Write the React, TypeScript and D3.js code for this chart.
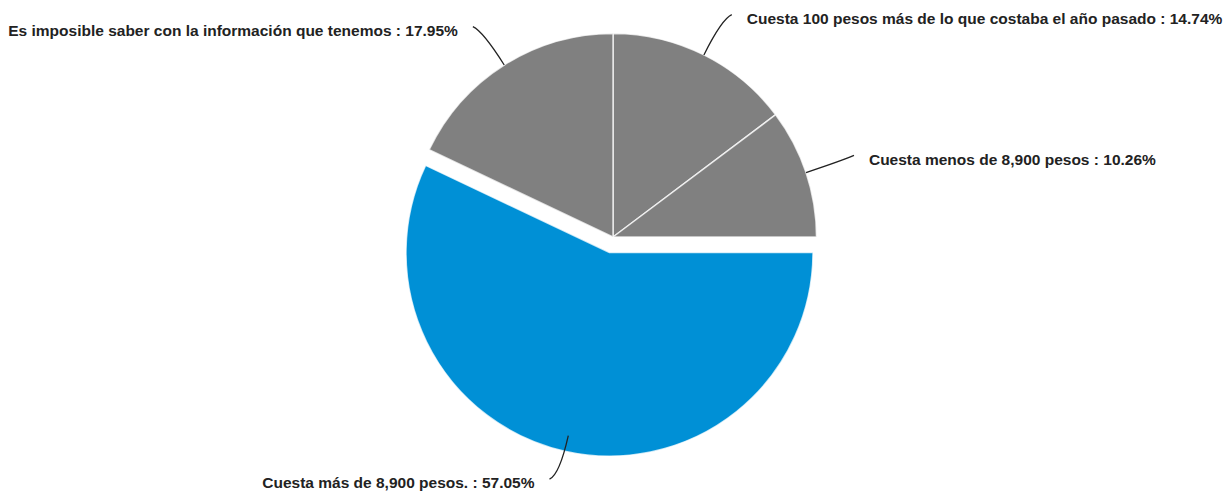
import React, { useEffect, useRef } from 'react';
import * as d3 from 'd3';

// answers in drawing order (clockwise from 12 o'clock)
const labels = [
  'Cuesta 100 pesos más de lo que costaba el año pasado',
  'Cuesta menos de 8,900 pesos',
  'Cuesta más de 8,900 pesos.',
  'Es imposible saber con la información que tenemos',
];
const values = [14.74, 10.26, 57.05, 17.95];
const colors = ['#808080', '#808080', '#0090d6', '#808080'];
const exploded = [false, false, true, false];

const WIDTH = 1228;
const HEIGHT = 491;

export default function App() {
  const svgRef = useRef<SVGSVGElement>(null);

  useEffect(() => {
    if (!svgRef.current) return;
    const svg = d3.select(svgRef.current);
    svg.selectAll('*').remove();

    const cx = 613;
    const cy = 237;
    const radius = 203.5;
    const explode = 16;

    const data = values.map((v, i) => ({ label: labels[i], value: v, color: colors[i], out: exploded[i] }));

    const pie = d3
      .pie<typeof data[number]>()
      .sort(null)
      .value((d) => d.value);
    const arcs = pie(data);

    const arc = d3.arc<d3.PieArcDatum<typeof data[number]>>().innerRadius(0).outerRadius(radius);

    const g = svg.append('g').attr('transform', `translate(${cx},${cy})`);

    const dir = (a: number) => [Math.sin(a), -Math.cos(a)];

    g.selectAll('path.slice')
      .data(arcs)
      .enter()
      .append('path')
      .attr('class', 'slice')
      .attr('d', (d) => arc(d) as string)
      .attr('transform', (d) => {
        if (!d.data.out) return null;
        const [dx, dy] = dir((d.startAngle + d.endAngle) / 2);
        return `translate(${dx * explode},${dy * explode})`;
      })
      .attr('fill', (d) => d.data.color)
      .attr('stroke', '#ffffff')
      .attr('stroke-opacity', 0.75)
      .attr('stroke-width', 1.5)
      .attr('stroke-linejoin', 'round');

    // connectors + labels
    arcs.forEach((d) => {
      const mid = (d.startAngle + d.endAngle) / 2;
      const [dx, dy] = dir(mid);
      const sx = Math.sign(dx) || 1;
      const sy = Math.sign(dy) || 1;
      const start = [dx * radius, dy * radius];
      const ctrl = [dx * (radius + 40), dy * (radius + 40)];
      const end = [ctrl[0] + sx * 10, ctrl[1] + sy * 4.5];

      const path = d3.path();
      path.moveTo(start[0], start[1]);
      path.quadraticCurveTo(ctrl[0], ctrl[1], end[0], end[1]);

      g.append('path')
        .attr('d', path.toString())
        .attr('fill', 'none')
        .attr('stroke', '#222')
        .attr('stroke-width', 1.3);

      g.append('text')
        .attr('x', end[0] + sx * 15)
        .attr('y', end[1] + 4)
        .attr('dy', '0.35em')
        .attr('text-anchor', sx > 0 ? 'start' : 'end')
        .attr('font-family', '"Liberation Sans", Arial, sans-serif')
        .attr('font-weight', 'bold')
        .attr('font-size', '15.5px')
        .attr('fill', '#222')
        .text(`${d.data.label} : ${d.data.value.toFixed(2)}%`);
    });
  }, []);

  return (
    <svg
      ref={svgRef}
      width={WIDTH}
      height={HEIGHT}
      style={{ position: 'absolute', left: 0, top: 0, background: '#fff' }}
    />
  );
}
